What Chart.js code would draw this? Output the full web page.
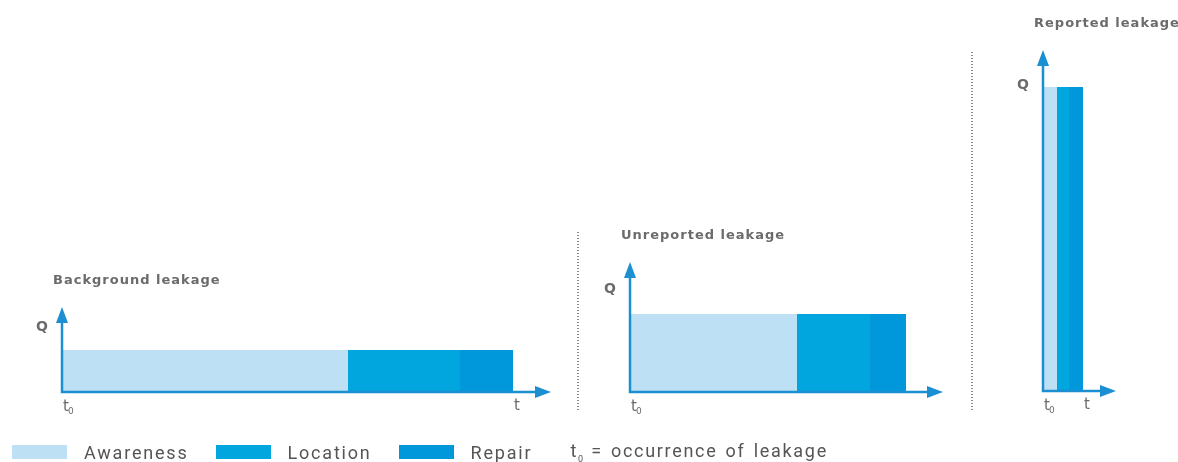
<!DOCTYPE html>
<html>
<head>
<meta charset="utf-8">
<script src="https://cdn.jsdelivr.net/npm/chart.js@4.4.1/dist/chart.umd.min.js"></script>
<style>
  body { margin: 0; background: #fff; }
  #wrap { position: relative; width: 1178px; height: 462px; overflow: hidden; }
  #wrap canvas { position: absolute; left: 0; top: 0; }
  .sep { position: absolute; width: 2px;
    background: repeating-linear-gradient(to bottom, #8a8a8a 0 1px, transparent 1px 3px); }
  #legend { position: absolute; left: 12px; top: 442px; height: 20px; display: flex; align-items: center;
    font-family: Roboto, sans-serif; font-size: 18px; letter-spacing: 1.8px; color: #555; white-space: nowrap; }
  #legend .sw { width: 55px; height: 14px; margin-right: 17px; }
  #legend .lb { margin-right: 27px; }
  #legend .lb.last { margin-right: 38px; }
  #legend .note { word-spacing: 2px; letter-spacing: 1.7px; }
  #legend sub { font-size: 9px; letter-spacing: 0; }
</style>
</head>
<body>
<div id="wrap">
  <canvas id="c0" width="1178" height="462"></canvas>
  <canvas id="c1" width="1178" height="462"></canvas>
  <canvas id="c2" width="1178" height="462"></canvas>
  <div class="sep" style="left:577px;top:232px;height:178px"></div>
  <div class="sep" style="left:971px;top:52px;height:358px"></div>
  <div id="legend"></div>
</div>
<script>
// time units and flow units are arbitrary (schematic)
var panelTitles = ["Background leakage", "Unreported leakage", "Reported leakage"];
var phases = ["Awareness", "Location", "Repair"];
var phaseColors = ["#bee0f5", "#00a6dd", "#0098da"];
var awareness = [28.6, 16.7, 1.4];
var locating = [11.2, 7.3, 1.2];
var repair = [5.3, 3.6, 1.4];
var flowQ = [4.2, 7.8, 30.4];
var tAxisMax = [48.9, 31.3, 7.3];
var qAxisMax = [8.5, 13.0, 34.1];
var qLabelAt = [6.5, 10.3, 30.6];
var showT = [true, false, true];

// where each panel's axis box sits on the page
var boxes = [
    { left: 62, right: 551, top: 307, bottom: 392 },
    { left: 630, right: 943, top: 262, bottom: 392 },
    { left: 1043, right: 1116, top: 50, bottom: 391 }
];

var axisColor = "#1c8fd2";
var textColor = "#6b6b6b";

var axesPlugin = {
    id: 'arrows',
    afterDatasetsDraw: function (chart, args, opts) {
        var ctx = chart.ctx;
        var xs = chart.scales.x, ys = chart.scales.y;
        var x0 = xs.getPixelForValue(0), y0 = ys.getPixelForValue(0);
        var xEnd = xs.getPixelForValue(xs.max), yEnd = ys.getPixelForValue(ys.max);
        ctx.save();
        ctx.strokeStyle = axisColor;
        ctx.fillStyle = axisColor;
        ctx.lineWidth = 2.5;
        ctx.beginPath();
        ctx.moveTo(x0, yEnd + 12);
        ctx.lineTo(x0, y0);
        ctx.lineTo(xEnd - 12, y0);
        ctx.stroke();
        // arrow heads
        ctx.beginPath();
        ctx.moveTo(x0, yEnd);
        ctx.lineTo(x0 - 6, yEnd + 16);
        ctx.lineTo(x0 + 6, yEnd + 16);
        ctx.closePath();
        ctx.fill();
        ctx.beginPath();
        ctx.moveTo(xEnd, y0);
        ctx.lineTo(xEnd - 16, y0 - 6);
        ctx.lineTo(xEnd - 16, y0 + 6);
        ctx.closePath();
        ctx.fill();

        ctx.fillStyle = textColor;
        ctx.textBaseline = 'middle';
        ctx.letterSpacing = '1px';
        ctx.font = 'bold 13px "DejaVu Sans"';
        ctx.textAlign = 'left';
        ctx.fillText(opts.title, x0 - 9, yEnd - 26);
        ctx.letterSpacing = '0px';
        ctx.font = 'bold 14px "DejaVu Sans"';
        ctx.textAlign = 'right';
        ctx.fillText('Q', x0 - 14, ys.getPixelForValue(opts.qLabel));
        // t0 and t
        ctx.font = '15px "DejaVu Sans"';
        ctx.textAlign = 'left';
        ctx.fillText('t', x0 + 1, y0 + 15);
        ctx.font = '9px "DejaVu Sans"';
        ctx.fillText('0', x0 + 6, y0 + 20);
        if (opts.showT) {
            ctx.font = '15px "DejaVu Sans"';
            ctx.textAlign = 'center';
            ctx.fillText('t', xs.getPixelForValue(opts.tEnd) + 4, y0 + 14);
        }
        ctx.restore();
    }
};

function makePanel(i) {
    var starts = [0, awareness[i], awareness[i] + locating[i]];
    var ends = [awareness[i], awareness[i] + locating[i], awareness[i] + locating[i] + repair[i]];
    var datasets = phases.map(function (name, j) {
        return {
            label: name,
            data: [{ x: starts[j], y: flowQ[i] }, { x: ends[j], y: flowQ[i] }],
            fill: 'origin',
            backgroundColor: phaseColors[j],
            borderWidth: 0,
            pointRadius: 0
        };
    });
    var b = boxes[i];
    new Chart(document.getElementById("c" + i).getContext("2d"), {
        type: 'line',
        data: { datasets: datasets },
        options: {
            responsive: false,
            animation: false,
            events: [],
            layout: { padding: { left: b.left, right: 1178 - b.right, top: b.top, bottom: 462 - b.bottom } },
            scales: {
                x: { type: 'linear', min: 0, max: tAxisMax[i], display: false },
                y: { type: 'linear', min: 0, max: qAxisMax[i], display: false }
            },
            plugins: {
                legend: { display: false },
                tooltip: { enabled: false },
                arrows: { title: panelTitles[i], qLabel: qLabelAt[i], showT: showT[i], tEnd: ends[2] }
            }
        },
        plugins: [axesPlugin]
    });
}

for (var i = 0; i < panelTitles.length; i++) makePanel(i);

var legend = document.getElementById("legend");
var html = "";
phases.forEach(function (name, j) {
    var cls = j === phases.length - 1 ? 'lb last' : 'lb';
    html += '<span class="sw" style="background:' + phaseColors[j] + '"></span><span class="' + cls + '">' + name + '</span>';
});
html += '<span class="note">t<sub>0</sub> = occurrence of leakage</span>';
legend.innerHTML = html;
</script>
</body>
</html>
